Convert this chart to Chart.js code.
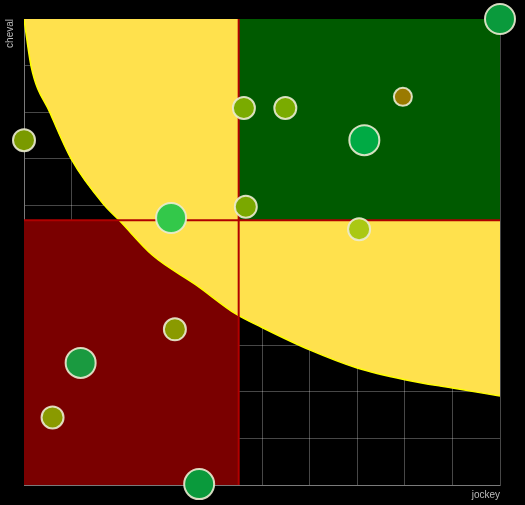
<!DOCTYPE html>
<html>
<head>
<meta charset="utf-8">
<script src="https://cdn.jsdelivr.net/npm/chart.js@4"></script>
<style>
  body { margin: 0; background: #000; }
</style>
</head>
<body>
<canvas id="graf" width="525" height="505"></canvas>
<script>
// curve of the yellow zone
const curveX = [0, 0.15, 0.55, 1.0, 1.7, 2.0, 2.7, 3.62, 4.45, 5, 6, 7, 8, 9, 10];
const curveY = [10, 8.98, 7.98, 6.98, 5.99, 5.68, 4.93, 4.29, 3.67, 3.38, 2.9, 2.51, 2.26, 2.08, 1.91];

// thresholds (red crosshair)
const seuilJockey = 4.51;
const seuilCheval = 5.68;

// bubbles
const jockey = [10, 4.62, 5.49, 7.96, 7.15, 0, 4.66, 3.09, 7.04, 3.17, 1.19, 0.6, 3.68];
const cheval = [10, 8.09, 8.09, 8.33, 7.4, 7.4, 5.97, 5.73, 5.49, 3.34, 2.62, 1.45, 0.02];
const rayons = [15, 11, 11, 9, 15, 11, 11, 15, 11, 11, 15, 11, 15];
const couleurs = ["#0a9a3c", "#7aab00", "#7aab00", "#9a7a00", "#00aa44", "#7a9a00", "#7aa800",
  "#33c84a", "#aac814", "#8a9a00", "#1a9a40", "#8a9a00", "#0a9a3c"];

const bulles = jockey.map((x, i) => ({ x, y: cheval[i], r: rayons[i] }));
const courbe = curveX.map((x, i) => ({ x, y: curveY[i] }));

new Chart(document.getElementById("graf"), {
  data: {
    datasets: [
      {
        type: "bubble",
        data: bulles,
        backgroundColor: couleurs,
        borderColor: "rgba(235,235,210,0.9)",
        borderWidth: 2,
        clip: false,
        order: 0
      },
      {
        type: "line",
        data: [{ x: seuilJockey, y: 0 }, { x: seuilJockey, y: 10 }],
        borderColor: "#b00000",
        borderWidth: 2,
        pointRadius: 0,
        fill: false,
        order: 1
      },
      {
        type: "line",
        data: [{ x: 0, y: seuilCheval }, { x: 10, y: seuilCheval }],
        borderColor: "#b00000",
        borderWidth: 2,
        pointRadius: 0,
        fill: false,
        order: 1
      },
      {
        type: "line",
        data: [{ x: seuilJockey, y: 10 }, { x: 10, y: 10 }],
        backgroundColor: "#005a00",
        borderWidth: 0,
        pointRadius: 0,
        fill: { value: seuilCheval },
        order: 2
      },
      {
        type: "line",
        data: courbe,
        backgroundColor: "#ffe14d",
        borderColor: "#ffff00",
        borderWidth: 1.5,
        pointRadius: 0,
        cubicInterpolationMode: "monotone",
        fill: "end",
        order: 3
      },
      {
        type: "line",
        data: [{ x: 0, y: seuilCheval }, { x: seuilJockey, y: seuilCheval }],
        backgroundColor: "#7a0000",
        borderWidth: 0,
        pointRadius: 0,
        fill: "origin",
        order: 4
      }
    ]
  },
  options: {
    responsive: false,
    animation: false,
    layout: { padding: { top: 19, right: 25, left: 4, bottom: 0 } },
    plugins: { legend: { display: false }, tooltip: { enabled: false } },
    scales: {
      x: {
        type: "linear", min: 0, max: 10,
        ticks: { display: false, stepSize: 1 },
        grid: { color: "rgba(255,255,255,0.28)", drawTicks: false },
        border: { color: "rgba(255,255,255,0.28)" },
        title: { display: true, text: "jockey", align: "end", color: "#bbb",
          font: { size: 10, family: "Liberation Sans" }, padding: { top: 4, bottom: 4 } }
      },
      y: {
        type: "linear", min: 0, max: 10,
        ticks: { display: false, stepSize: 1 },
        grid: { color: "rgba(255,255,255,0.28)", drawTicks: false },
        border: { color: "rgba(255,255,255,0.28)" },
        title: { display: true, text: "cheval", align: "end", color: "#bbb",
          font: { size: 10, family: "Liberation Sans" }, padding: { top: 0, bottom: 8 } }
      }
    }
  }
});
</script>
</body>
</html>
